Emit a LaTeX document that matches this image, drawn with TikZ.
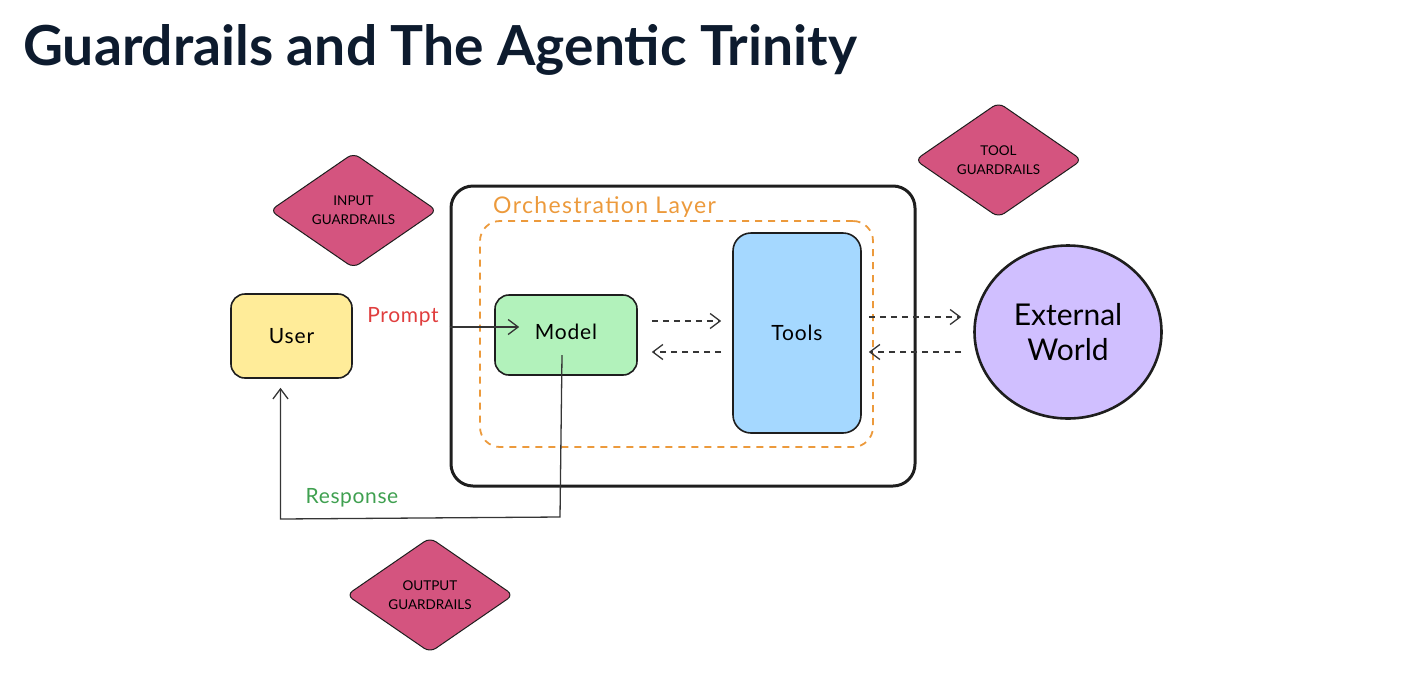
\documentclass[tikz,border=0pt]{standalone}
\usepackage{fontspec}
\setmainfont{Lato}
\usepackage{tikz}
\usetikzlibrary{arrows,arrows.meta,shapes,shapes.geometric,calc}
\definecolor{ink}{HTML}{1E1E1E}
\definecolor{titleblue}{HTML}{0D1B2E}
\definecolor{guardpink}{HTML}{D4547F}
\definecolor{useryellow}{HTML}{FFEC99}
\definecolor{modelgreen}{HTML}{B2F2BB}
\definecolor{toolsblue}{HTML}{A5D8FF}
\definecolor{worldpurple}{HTML}{D0BFFF}
\definecolor{orchorange}{HTML}{EC9A3C}
\definecolor{promptred}{HTML}{E03E3E}
\definecolor{respgreen}{HTML}{3FA050}

\begin{document}
\begin{tikzpicture}[x=1pt, y=-1pt,
	box/.style = {draw=ink, line width=1.6pt, rounded corners=14pt, font=\fontsize{21}{25}\selectfont\addfontfeature{LetterSpace=4}},
	guard/.style = {diamond, shape aspect=1.45, draw=ink, line width=1pt, fill=guardpink, rounded corners=7pt, minimum width=167pt, minimum height=115pt, inner sep=0pt, align=center, font=\fontsize{13.5}{19}\selectfont},
	conn/.style = {draw=ink!90, line width=1.3pt, -{Straight Barb[length=10pt,width=15pt]}},
	flow/.style = {conn, dash pattern=on 6pt off 5pt}]
	\useasboundingbox (0,0) rectangle (1402,686);
	\node[anchor=base west, inner sep=0pt, text=titleblue, font=\fontsize{55.2}{60}\selectfont\bfseries] (title) at (23,65) {Guardrails and The Agentic Trinity};
	\node[draw=ink, line width=3pt, rounded corners=22pt, minimum width=464pt, minimum height=300pt] (orch) at (683,336) {};
	\node[draw=orchorange, line width=1.8pt, dash pattern=on 7pt off 6pt, rounded corners=20pt, minimum width=393pt, minimum height=226pt] (layer) at (676.5,334) {};
	\node[anchor=base west, inner sep=0pt, text=orchorange, font=\fontsize{23}{26}\selectfont\addfontfeature{LetterSpace=6}] (orchlabel) at (493,213) {Orchestration Layer};
	\node[box, fill=useryellow, minimum width=121pt, minimum height=84pt] (user) at (291.5,336) {User};
	\node[box, fill=modelgreen, minimum width=142pt, minimum height=80pt] (model) at (566,335) {\raisebox{7pt}{Model}};
	\node[box, fill=toolsblue, rounded corners=18pt, minimum width=128pt, minimum height=200pt] (tools) at (797,333) {Tools};
	\node[ellipse, draw=ink, line width=2.6pt, fill=worldpurple, minimum width=187pt, minimum height=173pt, align=center, font=\fontsize{30}{35}\selectfont] (world) at (1068,332) {External\\World};
	\node[guard] (ingr) at (353.5,210.5) {INPUT\\GUARDRAILS};
	\node[guard] (toolgr) at (998.5,160) {TOOL\\GUARDRAILS};
	\node[guard] (outgr) at (430,595) {OUTPUT\\GUARDRAILS};
	\node[text=promptred, font=\fontsize{21}{24}\selectfont\addfontfeature{LetterSpace=3}] (prompt) at (403,317) {Prompt};
	\node[text=respgreen, font=\fontsize{21}{24}\selectfont\addfontfeature{LetterSpace=3}] (response) at (352,498) {Response};
	\draw[conn] (orch.west |- 0,327) -- ([xshift=25pt,yshift=8pt]model.west);
	\draw[flow] ([xshift=14pt,yshift=14pt]model.east) -- ([xshift=-11pt]tools.west |- 0,321);
	\draw[flow] ([xshift=-11pt]tools.west |- 0,352) -- ([xshift=14pt,yshift=-17pt]model.east);
	\draw[flow] ([xshift=7pt]tools.east |- 0,317) -- ([xshift=-12pt]world.west |- 0,317);
	\draw[flow] ([xshift=-12pt]world.west |- 0,352) -- ([xshift=7pt]tools.east |- 0,352);
	\draw[conn] ([xshift=-4pt,yshift=-20pt]model.center) -- ++(-2,162) -- ([xshift=-11pt]user.south |- 0,519) -- ([xshift=-11pt,yshift=-9pt]user.south);
\end{tikzpicture}
\end{document}
